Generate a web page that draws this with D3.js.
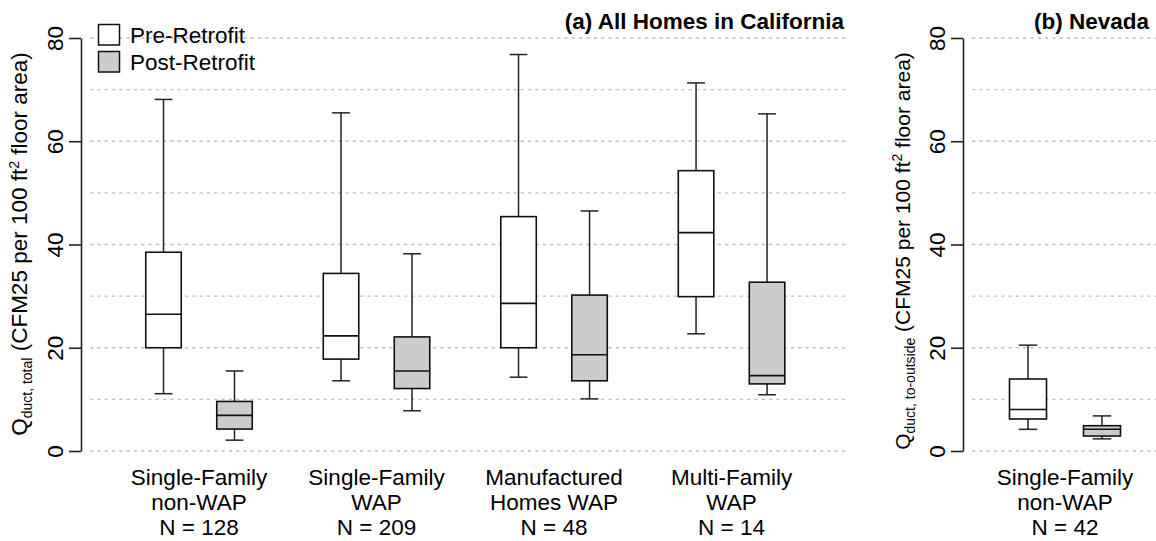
<!DOCTYPE html>
<html>
<head>
<meta charset="utf-8">
<script src="https://cdn.jsdelivr.net/npm/d3@7"></script>
<style>
  html, body { margin: 0; padding: 0; background: #fff; }
  svg { display: block; font-family: "Liberation Sans", Arial, Helvetica, sans-serif; }
</style>
</head>
<body>
<svg id="chart" width="1156" height="541"></svg>
<script>
// ---------- data ----------
const caLine1 = ["Single-Family", "Single-Family", "Manufactured", "Multi-Family"];
const caLine2 = ["non-WAP", "WAP", "Homes WAP", "WAP"];
const caN = ["N = 128", "N = 209", "N = 48", "N = 14"];
// [lower whisker, Q1, median, Q3, upper whisker]
const caPre = [
  [11.1, 20.0, 26.5, 38.5, 68.1],
  [13.6, 17.8, 22.3, 34.4, 65.5],
  [14.3, 20.0, 28.6, 45.4, 76.8],
  [22.7, 29.9, 42.3, 54.3, 71.3]
];
const caPost = [
  [2.1, 4.25, 6.9, 9.6, 15.5],
  [7.8, 12.1, 15.5, 22.1, 38.2],
  [10.1, 13.6, 18.65, 30.2, 46.5],
  [10.9, 13.0, 14.6, 32.7, 65.3]
];
const nvLine1 = ["Single-Family"];
const nvLine2 = ["non-WAP"];
const nvN = ["N = 42"];
const nvPre = [[4.2, 6.2, 8.05, 13.95, 20.5]];
const nvPost = [[2.35, 2.9, 4.2, 4.9, 6.8]];
const tickVals = [0, 20, 40, 60, 80];
const gridVals = [0, 10, 20, 30, 40, 50, 60, 70, 80];
const legendLabels = ["Pre-Retrofit", "Post-Retrofit"];
const fills = ["#ffffff", "#cccccc"];

// ---------- layout ----------
const FS = 22.5;
const svg = d3.select("#chart");
const y = d3.scaleLinear().domain([0, 80]).range([451, 38]);

function panel(opts) {
  const g = svg.append("g");
  const x = d3.scaleLinear().domain(opts.xDomain).range([opts.gridLeft, opts.gridRight]);
  // grid
  g.selectAll("line.grid").data(gridVals).enter().append("line")
    .attr("x1", opts.gridLeft).attr("x2", opts.gridRight)
    .attr("y1", d => y(d)).attr("y2", d => y(d))
    .attr("stroke", "#c0c0c0").attr("stroke-width", 1.4)
    .attr("stroke-dasharray", "3.3,4");
  // axis
  const ax = g.append("g").attr("transform", `translate(${opts.axisX},0)`)
    .call(d3.axisLeft(y).tickValues(tickVals).tickSize(12).tickSizeOuter(0));
  ax.select(".domain").attr("stroke", "#222").attr("stroke-width", 1.6);
  ax.selectAll(".tick line").attr("stroke", "#222").attr("stroke-width", 1.6);
  ax.selectAll(".tick text")
    .attr("transform", "rotate(-90)")
    .attr("x", 0).attr("y", -18).attr("dy", 0)
    .attr("text-anchor", "middle")
    .attr("font-size", FS).attr("font-family", null).attr("fill", "#000");
  // y label
  const yl = g.append("text")
    .attr("transform", `translate(${opts.ylabX},${opts.ylabY}) rotate(-90)`)
    .attr("text-anchor", "middle").attr("font-size", opts.ylabFS).attr("fill", "#000");
  yl.append("tspan").text("Q");
  yl.append("tspan").attr("font-size", 14).attr("dy", 5).text(opts.sub);
  yl.append("tspan").attr("dy", -5).text(" (CFM25 per 100 ft");
  yl.append("tspan").attr("font-size", 14).attr("dy", -8).text("2");
  yl.append("tspan").attr("dy", 8).text(" floor area)");
  // title
  g.append("text").attr("x", opts.titleX).attr("y", 29)
    .attr("text-anchor", "end").attr("font-weight", "bold")
    .attr("font-size", FS).text(opts.title);

  // boxes
  const halfW = 0.25;
  const series = [opts.pre, opts.post];
  series.forEach((data, si) => {
    data.forEach((s, gi) => {
      const pos = gi * 2.5 + 1 + si;
      const cx = x(pos), x0 = x(pos - halfW), x1 = x(pos + halfW);
      const c0 = x(pos - halfW / 2), c1 = x(pos + halfW / 2);
      const bg = g.append("g");
      bg.append("line").attr("x1", cx).attr("x2", cx).attr("y1", y(s[3])).attr("y2", y(s[4]))
        .attr("stroke", "#222").attr("stroke-width", 1.5);
      bg.append("line").attr("x1", cx).attr("x2", cx).attr("y1", y(s[0])).attr("y2", y(s[1]))
        .attr("stroke", "#222").attr("stroke-width", 1.5);
      bg.append("line").attr("x1", c0).attr("x2", c1).attr("y1", y(s[4])).attr("y2", y(s[4]))
        .attr("stroke", "#222").attr("stroke-width", 1.5);
      bg.append("line").attr("x1", c0).attr("x2", c1).attr("y1", y(s[0])).attr("y2", y(s[0]))
        .attr("stroke", "#222").attr("stroke-width", 1.5);
      bg.append("rect").attr("x", x0).attr("width", x1 - x0)
        .attr("y", y(s[3])).attr("height", y(s[1]) - y(s[3]))
        .attr("fill", fills[si]).attr("stroke", "#111").attr("stroke-width", 1.6);
      bg.append("line").attr("x1", x0).attr("x2", x1).attr("y1", y(s[2])).attr("y2", y(s[2]))
        .attr("stroke", "#111").attr("stroke-width", 1.6);
    });
  });
  // category labels
  opts.l1.forEach((t, gi) => {
    const cx = x(gi * 2.5 + 1.5);
    const tx = g.append("text").attr("text-anchor", "middle").attr("font-size", FS);
    tx.append("tspan").attr("x", cx).attr("y", 485).text(t);
    tx.append("tspan").attr("x", cx).attr("y", 510).text(opts.l2[gi]);
    tx.append("tspan").attr("x", cx).attr("y", 535).text(opts.n[gi]);
  });
}

panel({
  xDomain: [-0.035, 10.64], gridLeft: 90, gridRight: 848, axisX: 81,
  ylabX: 27, ylabY: 244, ylabFS: FS, sub: "duct, total",
  title: "(a) All Homes in California", titleX: 844,
  pre: caPre, post: caPost, l1: caLine1, l2: caLine2, n: caN
});
panel({
  xDomain: [0.243, 2.73], gridLeft: 972, gridRight: 1156, axisX: 963,
  ylabX: 910, ylabY: 251, ylabFS: 21, sub: "duct, to-outside",
  title: "(b) Nevada", titleX: 1149,
  pre: nvPre, post: nvPost, l1: nvLine1, l2: nvLine2, n: nvN
});

// legend
const lg = svg.append("g");
legendLabels.forEach((t, i) => {
  lg.append("rect").attr("x", 98.5).attr("y", 24.5 + i * 27).attr("width", 21).attr("height", 20.5)
    .attr("fill", fills[i]).attr("stroke", "#111").attr("stroke-width", 1.5);
  lg.append("text").attr("x", 130).attr("y", 43 + i * 27)
    .attr("font-size", FS).text(t);
});
</script>
</body>
</html>
